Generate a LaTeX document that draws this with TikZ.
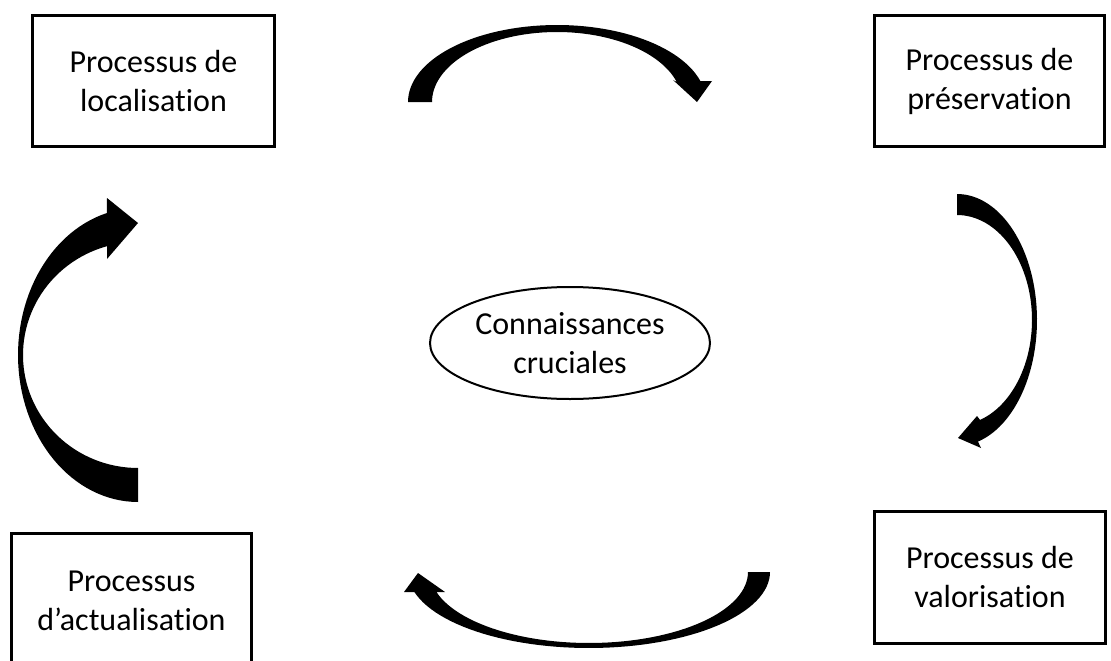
\documentclass[tikz,border=0pt]{standalone}
\usepackage{fontspec}
\setmainfont[Ligatures=NoCommon]{Carlito}
\usetikzlibrary{shapes.geometric}
\begin{document}
\begin{tikzpicture}[x=1pt,y=-1pt,
  box/.style={draw, line width=3.5pt, align=center, inner sep=0pt,
    font=\fontsize{32}{39}\selectfont},
  bubble/.style={draw, ellipse, line width=2pt, align=center, inner sep=0pt,
    font=\fontsize{32}{39}\selectfont, minimum width=280pt, minimum height=112pt},
  bent/.style={fill=black, draw=none}]
\useasboundingbox (0,0) rectangle (1111,661);
\clip (0,0) rectangle (1111,661);

% boxes
\node[box, minimum width=242pt, minimum height=131pt] (loc) at (153.5,81) {Processus de\\localisation};
\node[box, minimum width=230pt, minimum height=131pt] (pres) at (989.5,81) {Processus de\\préservation};
\node[box, minimum width=231pt, minimum height=132pt] (val) at (990,577.5) {Processus de\\valorisation};
\node[box, minimum width=240pt, minimum height=135pt] (act) at (131.5,601) {Processus\\d’actualisation};
\node[bubble] (conn) at (570,343) {Connaissances\\cruciales};

% top curved arrow
\fill[bent] (408,102)
  -- plot[domain=180:344.2,samples=60] ({557+149*cos(\x)},{102+77*sin(\x)})
  -- (712,81) -- (697,102) -- (673,80)
  -- plot[domain=343.4:180,samples=60] ({557+125*cos(\x)},{102+70*sin(\x)})
  -- cycle;

% right curved arrow
\fill[bent] (957,194)
  -- plot[domain=-90:74.8,samples=60] ({957+80*cos(\x)},{320+126*sin(\x)})
  -- (981,448) -- (958,438) -- (977,416)
  -- plot[domain=72.1:-90,samples=60] ({957+75*cos(\x)},{320+105*sin(\x)})
  -- cycle;

% bottom curved arrow
\fill[bent] (770,572)
  -- plot[domain=0:164.7,samples=60] ({589+181*cos(\x)},{572+76*sin(\x)})
  -- (404,592) -- (418,573) -- (445,592)
  -- plot[domain=163.6:0,samples=60] ({589+159*cos(\x)},{572+71*sin(\x)})
  -- cycle;

% left curved arrow
\fill[bent] (138,502)
  -- plot[domain=90:255,samples=60] ({138+120*cos(\x)},{355+147*sin(\x)})
  -- (107,198) -- (138,223) -- (107,259)
  -- plot[domain=254.4:90,samples=60] ({138+115*cos(\x)},{355+113*sin(\x)})
  -- cycle;
\end{tikzpicture}
\end{document}
